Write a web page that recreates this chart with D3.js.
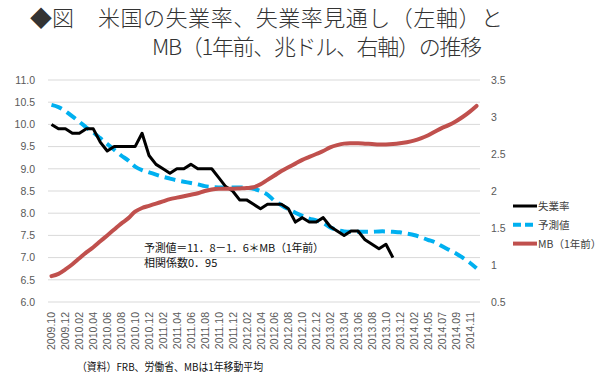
<!DOCTYPE html>
<html>
  <head>
    <meta charset="utf-8">
    <title>米国の失業率とMB</title>
    <script src="https://d3js.org/d3.v7.min.js"></script>
    <style>
      body { margin: 0; background: #fff; }
      text { font-family: "Noto Sans CJK JP", "Noto Sans", sans-serif; }
    </style>
  </head>
  <body>
    <script>
      // months on the category axis (2014.04 is not in the source data)
      var months = ["2009.10","2009.11","2009.12",
        "2010.01","2010.02","2010.03","2010.04","2010.05","2010.06","2010.07","2010.08","2010.09","2010.10","2010.11","2010.12",
        "2011.01","2011.02","2011.03","2011.04","2011.05","2011.06","2011.07","2011.08","2011.09","2011.10","2011.11","2011.12",
        "2012.01","2012.02","2012.03","2012.04","2012.05","2012.06","2012.07","2012.08","2012.09","2012.10","2012.11","2012.12",
        "2013.01","2013.02","2013.03","2013.04","2013.05","2013.06","2013.07","2013.08","2013.09","2013.10","2013.11","2013.12",
        "2014.01","2014.02","2014.03","2014.05","2014.06","2014.07","2014.08","2014.09","2014.10","2014.11","2014.12"];

      // unemployment rate (%), left axis
      var unemployment = [10.0, 9.9, 9.9,
        9.8, 9.8, 9.9, 9.9, 9.6, 9.4, 9.5, 9.5, 9.5, 9.5, 9.8, 9.3,
        9.1, 9.0, 8.9, 9.0, 9.0, 9.1, 9.0, 9.0, 9.0, 8.8, 8.6, 8.5,
        8.3, 8.3, 8.2, 8.1, 8.2, 8.2, 8.2, 8.1, 7.8, 7.9, 7.8, 7.8,
        7.9, 7.7, 7.6, 7.5, 7.6, 7.6, 7.4, 7.3, 7.2, 7.3, 7.0];

      // forecast (%), left axis
      var forecast = [10.44, 10.39, 10.30,
        10.18, 10.06, 9.93, 9.82, 9.69, 9.56, 9.43, 9.30, 9.19, 9.05, 8.97, 8.92,
        8.87, 8.82, 8.78, 8.74, 8.71, 8.68, 8.65, 8.61, 8.59, 8.58, 8.58, 8.58,
        8.58, 8.57, 8.55, 8.50, 8.42, 8.28, 8.18, 8.09, 8.01, 7.94, 7.88, 7.84,
        7.78, 7.68, 7.62, 7.59, 7.58, 7.58, 7.58, 7.58, 7.59, 7.59, 7.58, 7.57,
        7.54, 7.51, 7.46, 7.40, 7.35, 7.26, 7.18, 7.10, 7.00, 6.89, 6.76];

      // monetary base one year earlier (trillion $), right axis
      var mb = [0.85, 0.88, 0.94,
        1.01, 1.09, 1.17, 1.24, 1.32, 1.40, 1.48, 1.56, 1.63, 1.72, 1.77, 1.80,
        1.83, 1.86, 1.89, 1.91, 1.93, 1.95, 1.97, 2.00, 2.02, 2.03, 2.03, 2.03,
        2.035, 2.04, 2.05, 2.09, 2.15, 2.21, 2.27, 2.32, 2.37, 2.42, 2.46, 2.50,
        2.54, 2.59, 2.62, 2.64, 2.645, 2.645, 2.64, 2.635, 2.63, 2.63, 2.635, 2.645,
        2.66, 2.68, 2.71, 2.75, 2.80, 2.85, 2.89, 2.94, 3.00, 3.07, 3.15];

      var leftTicks = [6.0, 6.5, 7.0, 7.5, 8.0, 8.5, 9.0, 9.5, 10.0, 10.5, 11.0];
      var rightTicks = [0.5, 1, 1.5, 2, 2.5, 3, 3.5];

      var width = 600, height = 377;
      var plotL = 48, plotR = 480, plotT = 80, plotB = 302;

      var svg = d3.select("body").append("svg")
        .attr("width", width).attr("height", height);

      svg.append("rect").attr("width", width).attr("height", height).attr("fill", "#fff");

      var x = d3.scaleBand().domain(months).range([plotL, plotR]);
      var cx = function(i) { return x(months[i]) + x.bandwidth() / 2; };
      var yL = d3.scaleLinear().domain([6, 11]).range([plotB, plotT]);
      var yR = d3.scaleLinear().domain([0.5, 3.5]).range([plotB, plotT]);

      // gridlines
      svg.append("g").selectAll("line")
        .data(leftTicks).enter().append("line")
        .attr("x1", plotL).attr("x2", plotR)
        .attr("y1", function(d) { return yL(d); })
        .attr("y2", function(d) { return yL(d); })
        .attr("stroke", "#d9d9d9").attr("stroke-width", 1);

      // left axis
      var axL = svg.append("g")
        .attr("transform", "translate(" + (plotL - 10) + ",0)")
        .call(d3.axisLeft(yL).tickValues(leftTicks).tickFormat(d3.format(".1f")).tickSize(0).tickPadding(3));
      axL.select(".domain").remove();
      axL.selectAll("text").attr("font-size", 10.5).attr("fill", "#595959")
        .style("font-family", "'Liberation Sans', sans-serif");

      // right axis
      var axR = svg.append("g")
        .attr("transform", "translate(" + (plotR + 8) + ",0)")
        .call(d3.axisRight(yR).tickValues(rightTicks).tickFormat(d3.format("")).tickSize(0).tickPadding(3));
      axR.select(".domain").remove();
      axR.selectAll("text").attr("font-size", 10.5).attr("fill", "#595959")
        .style("font-family", "'Liberation Sans', sans-serif");

      // category axis, every other month labelled
      var axX = svg.append("g")
        .attr("transform", "translate(0," + plotB + ")")
        .call(d3.axisBottom(x).tickValues(months.filter(function(d, i) { return i % 2 === 0; })).tickSize(0).tickPadding(0));
      axX.select(".domain").remove();
      axX.selectAll("text")
        .attr("font-size", 10.5).attr("fill", "#595959")
        .style("font-family", "'Liberation Sans', sans-serif")
        .attr("text-anchor", "end")
        .attr("transform", "translate(4,10) rotate(-90)")
        .attr("x", 0).attr("y", 0).attr("dy", 0);

      var idx = d3.range(months.length);

      var lineMB = d3.line()
        .x(function(i) { return cx(i); })
        .y(function(i) { return yR(mb[i]); })
        .curve(d3.curveCatmullRom);

      var lineFc = d3.line()
        .x(function(i) { return cx(i); })
        .y(function(i) { return yL(forecast[i]); })
        .curve(d3.curveCatmullRom);

      var lineUn = d3.line()
        .x(function(i) { return cx(i); })
        .y(function(i) { return yL(unemployment[i]); });

      svg.append("path").datum(idx)
        .attr("d", lineFc).attr("fill", "none")
        .attr("stroke", "#00b0f0").attr("stroke-width", 4)
        .attr("stroke-dasharray", "11,6");

      svg.append("path").datum(d3.range(unemployment.length))
        .attr("d", lineUn).attr("fill", "none")
        .attr("stroke", "#000").attr("stroke-width", 3)
        .attr("stroke-linejoin", "round");

      svg.append("path").datum(idx)
        .attr("d", lineMB).attr("fill", "none")
        .attr("stroke", "#c0504d").attr("stroke-width", 4)
        .attr("stroke-linecap", "round");

      // legend
      var legend = [
        { name: "失業率", color: "#000", dash: null, w: 3 },
        { name: "予測値", color: "#00b0f0", dash: "8,4", w: 4 },
        { name: "MB（1年前）", color: "#c0504d", dash: null, w: 4 }
      ];
      var lg = svg.append("g").selectAll("g").data(legend).enter().append("g")
        .attr("transform", function(d, i) { return "translate(513," + (206 + i * 18.8) + ")"; });
      lg.append("line").attr("x1", 0).attr("x2", 24)
        .attr("stroke", function(d) { return d.color; })
        .attr("stroke-width", function(d) { return d.w; })
        .attr("stroke-dasharray", function(d) { return d.dash; });
      lg.append("text").attr("x", 25).attr("y", 4)
        .attr("font-size", 10.5).attr("fill", "#404040")
        .text(function(d) { return d.name; });

      // annotation
      svg.append("text").attr("x", 144).attr("y", 252)
        .attr("font-size", 11).attr("fill", "#111")
        .attr("textLength", 180)
        .text("予測値＝11．8－1．6＊MB（1年前）");
      svg.append("text").attr("x", 144).attr("y", 266.5)
        .attr("font-size", 11).attr("fill", "#111")
        .text("相関係数0．95");

      // title
      var title = svg.append("g").attr("fill", "#333").attr("font-size", 22).attr("font-weight", 300);
      title.append("text").attr("x", 30).attr("y", 26).text("◆図");
      title.append("text").attr("x", 98).attr("y", 26)
        .attr("textLength", 405).attr("lengthAdjust", "spacing")
        .text("米国の失業率、失業率見通し（左軸）と");
      title.append("text").attr("x", 152).attr("y", 55)
        .attr("textLength", 330).attr("lengthAdjust", "spacing")
        .text("MB（1年前、兆ドル、右軸）の推移");

      // source note
      svg.append("text").attr("x", 77).attr("y", 371)
        .attr("font-size", 11).attr("fill", "#111")
        .attr("textLength", 186).attr("lengthAdjust", "spacingAndGlyphs")
        .text("（資料）FRB、労働省、MBは1年移動平均");
    </script>
  </body>
</html>
